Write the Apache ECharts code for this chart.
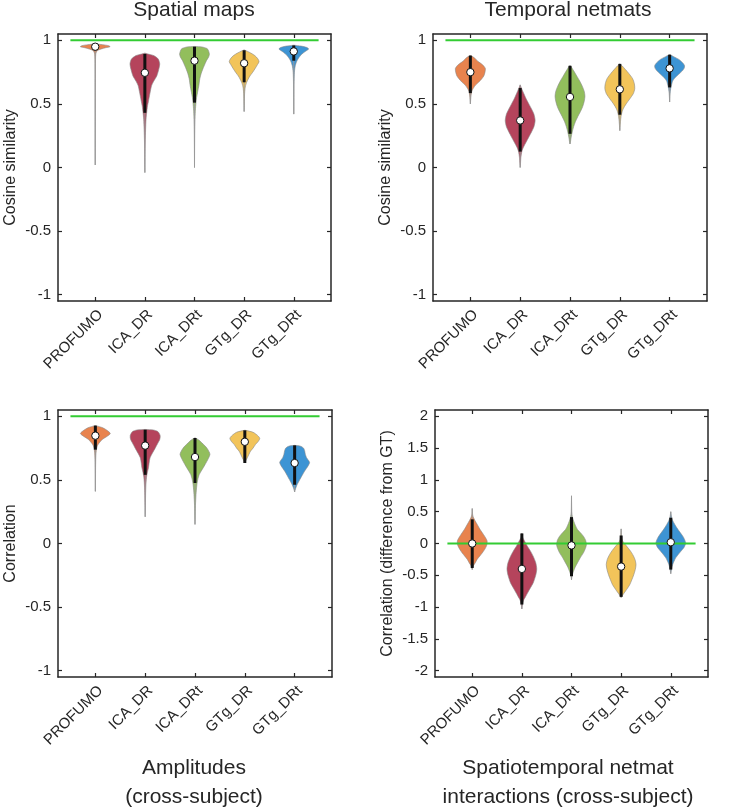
<!DOCTYPE html>
<html>
<head>
<meta charset="utf-8">
<script src="https://cdn.jsdelivr.net/npm/echarts@6/dist/echarts.min.js"></script>
<style>html,body{margin:0;padding:0;background:#fff}#c{width:742px;height:809px}</style>
</head>
<body>
<div id="c"></div>
<script>
// ---------------- DATA ----------------
const categories = ['PROFUMO', 'ICA_DR', 'ICA_DRt', 'GTg_DR', 'GTg_DRt'];
const colors = ['#E8834E', '#B5445C', '#92BE5C', '#F2C45A', '#3D94D4'];

const panelTitles = ['Spatial maps', 'Temporal netmats', 'Amplitudes\n(cross-subject)', 'Spatiotemporal netmat\ninteractions (cross-subject)'];
const yNames = ['Cosine similarity', 'Cosine similarity', 'Correlation', 'Correlation (difference from GT)'];
const yTicksA = [-1, -0.5, 0, 0.5, 1];
const yTicksB = [-2, -1.5, -1, -0.5, 0, 0.5, 1, 1.5, 2];
const referenceLine = [1, 1, 1, 0];

// Panel 1: Spatial maps
const spatialMedian = [0.95, 0.745, 0.84, 0.82, 0.913];
const spatialBox = [[0.92, 0.966], [0.43, 0.893], [0.51, 0.95], [0.67, 0.922], [0.84, 0.96]];
const spatialRange = [[0.02, 0.972], [-0.04, 0.9], [0.0, 0.952], [0.44, 0.925], [0.42, 0.962]];
const spatialProfiles = [
  [[0.972,0],[0.966,0.5],[0.958,0.9],[0.95,1.0],[0.942,0.7],[0.932,0.4],[0.92,0.15],[0.9,0.05],[0.85,0.02],[0.7,0.01],[0.4,0.005],[0.02,0]],
  [[0.9,0],[0.893,0.2],[0.88,0.6],[0.853,0.9],[0.814,1.0],[0.77,0.93],[0.72,0.8],[0.68,0.6],[0.643,0.45],[0.6,0.37],[0.564,0.31],[0.52,0.24],[0.485,0.18],[0.43,0.12],[0.38,0.08],[0.3,0.05],[0.2,0.025],[0.1,0.012],[0,0.005],[-0.04,0]],
  [[0.952,0],[0.948,0.5],[0.935,0.85],[0.915,0.95],[0.89,1.0],[0.87,0.95],[0.84,0.8],[0.8,0.65],[0.775,0.56],[0.74,0.45],[0.7,0.36],[0.643,0.29],[0.6,0.22],[0.55,0.14],[0.51,0.1],[0.45,0.06],[0.4,0.04],[0.3,0.02],[0.15,0.008],[0,0]],
  [[0.925,0],[0.915,0.2],[0.9,0.45],[0.88,0.72],[0.855,0.92],[0.832,1.0],[0.81,0.9],[0.775,0.72],[0.745,0.55],[0.72,0.39],[0.695,0.27],[0.67,0.17],[0.645,0.1],[0.62,0.06],[0.58,0.03],[0.5,0.012],[0.44,0]],
  [[0.962,0],[0.955,0.5],[0.945,0.85],[0.932,1.0],[0.915,0.8],[0.893,0.55],[0.873,0.4],[0.853,0.28],[0.83,0.18],[0.8,0.1],[0.76,0.05],[0.7,0.025],[0.6,0.012],[0.5,0.005],[0.42,0]]
];

// Panel 2: Temporal netmats
const temporalMedian = [0.75, 0.37, 0.555, 0.615, 0.78];
const temporalBox = [[0.585, 0.88], [0.125, 0.625], [0.265, 0.8], [0.415, 0.815], [0.63, 0.887]];
const temporalRange = [[0.5, 0.88], [0.0, 0.65], [0.185, 0.8], [0.29, 0.815], [0.515, 0.887]];
const temporalProfiles = [
  [[0.88,0.03],[0.86,0.3],[0.835,0.5],[0.81,0.8],[0.78,1.0],[0.75,0.98],[0.72,0.9],[0.70,0.78],[0.67,0.55],[0.65,0.36],[0.62,0.18],[0.6,0.1],[0.57,0.05],[0.53,0.02],[0.5,0]],
  [[0.65,0],[0.62,0.1],[0.58,0.25],[0.54,0.4],[0.5,0.58],[0.46,0.76],[0.42,0.92],[0.37,1.0],[0.32,0.92],[0.28,0.76],[0.24,0.58],[0.2,0.4],[0.16,0.22],[0.13,0.12],[0.08,0.05],[0.03,0.02],[0,0]],
  [[0.8,0.03],[0.76,0.25],[0.72,0.45],[0.68,0.65],[0.64,0.82],[0.6,0.95],[0.56,1.0],[0.52,0.95],[0.48,0.85],[0.44,0.7],[0.4,0.52],[0.36,0.36],[0.32,0.24],[0.28,0.15],[0.24,0.08],[0.2,0.03],[0.185,0]],
  [[0.815,0],[0.8,0.15],[0.77,0.38],[0.74,0.6],[0.7,0.85],[0.66,0.97],[0.62,1.0],[0.58,0.9],[0.54,0.67],[0.5,0.42],[0.46,0.22],[0.42,0.11],[0.38,0.06],[0.34,0.03],[0.29,0]],
  [[0.887,0.03],[0.87,0.3],[0.85,0.62],[0.82,0.9],[0.8,1.0],[0.78,0.97],[0.76,0.85],[0.74,0.67],[0.72,0.48],[0.7,0.32],[0.68,0.2],[0.65,0.13],[0.62,0.07],[0.58,0.03],[0.54,0.01],[0.515,0]]
];

// Panel 3: Amplitudes
const amplitudeMedian = [0.848, 0.77, 0.68, 0.80, 0.633];
const amplitudeBox = [[0.738, 0.927], [0.54, 0.895], [0.476, 0.83], [0.633, 0.89], [0.462, 0.772]];
const amplitudeRange = [[0.41, 0.927], [0.21, 0.895], [0.15, 0.83], [0.635, 0.89], [0.405, 0.772]];
const amplitudeProfiles = [
  [[0.927,0.03],[0.91,0.5],[0.89,0.78],[0.865,1.0],[0.84,0.75],[0.82,0.48],[0.79,0.25],[0.767,0.13],[0.73,0.06],[0.68,0.03],[0.6,0.015],[0.5,0.008],[0.41,0]],
  [[0.897,0],[0.893,0.55],[0.88,0.85],[0.85,1.0],[0.82,0.98],[0.79,0.85],[0.75,0.67],[0.71,0.48],[0.675,0.33],[0.63,0.26],[0.596,0.22],[0.56,0.15],[0.53,0.1],[0.48,0.06],[0.4,0.03],[0.3,0.015],[0.21,0]],
  [[0.83,0.03],[0.81,0.3],[0.79,0.47],[0.77,0.65],[0.75,0.8],[0.72,0.95],[0.70,1.0],[0.67,0.9],[0.62,0.67],[0.58,0.47],[0.544,0.29],[0.5,0.18],[0.466,0.13],[0.42,0.09],[0.387,0.07],[0.3,0.03],[0.2,0.01],[0.15,0]],
  [[0.89,0.03],[0.875,0.55],[0.85,0.85],[0.827,1.0],[0.8,0.88],[0.78,0.72],[0.75,0.55],[0.728,0.39],[0.7,0.27],[0.675,0.17],[0.65,0.06],[0.635,0]],
  [[0.772,0],[0.765,0.4],[0.75,0.6],[0.73,0.67],[0.7,0.72],[0.675,0.8],[0.65,0.95],[0.636,1.0],[0.61,0.9],[0.57,0.67],[0.535,0.5],[0.505,0.36],[0.475,0.22],[0.453,0.13],[0.43,0.06],[0.405,0]]
];

// Panel 4: Spatiotemporal netmat interactions
const interactionMedian = [0.0, -0.40, -0.03, -0.363, 0.02];
const interactionBox = [[-0.385, 0.38], [-0.96, 0.158], [-0.515, 0.415], [-0.84, 0.126], [-0.41, 0.405]];
const interactionRange = [[-0.41, 0.55], [-1.03, 0.16], [-0.57, 0.75], [-0.85, 0.23], [-0.475, 0.5]];
const interactionProfiles = [
  [[0.55,0],[0.45,0.03],[0.4,0.1],[0.33,0.26],[0.22,0.53],[0.115,0.83],[0.04,1.0],[-0.03,0.97],[-0.095,0.83],[-0.15,0.67],[-0.2,0.5],[-0.25,0.33],[-0.305,0.2],[-0.35,0.08],[-0.41,0]],
  [[0.16,0],[0.1,0.05],[0.04,0.18],[-0.04,0.36],[-0.12,0.58],[-0.2,0.76],[-0.3,0.93],[-0.4,1.0],[-0.5,0.93],[-0.62,0.76],[-0.7,0.57],[-0.78,0.38],[-0.84,0.24],[-0.885,0.13],[-0.95,0.05],[-1.03,0]],
  [[0.75,0],[0.5,0.02],[0.42,0.06],[0.35,0.15],[0.28,0.27],[0.22,0.4],[0.17,0.6],[0.115,0.8],[0.05,0.95],[-0.02,1.0],[-0.08,0.93],[-0.147,0.8],[-0.22,0.6],[-0.305,0.4],[-0.37,0.25],[-0.44,0.13],[-0.5,0.05],[-0.57,0]],
  [[0.23,0],[0.12,0.03],[0.04,0.1],[-0.04,0.36],[-0.11,0.6],[-0.175,0.78],[-0.25,0.93],[-0.33,1.0],[-0.41,0.95],[-0.49,0.85],[-0.57,0.72],[-0.647,0.58],[-0.72,0.38],[-0.78,0.2],[-0.82,0.08],[-0.85,0]],
  [[0.5,0],[0.42,0.05],[0.36,0.13],[0.3,0.27],[0.25,0.4],[0.195,0.56],[0.1,0.85],[0.01,1.0],[-0.05,0.92],[-0.095,0.78],[-0.15,0.58],[-0.226,0.33],[-0.28,0.22],[-0.33,0.13],[-0.4,0.05],[-0.475,0]]
];

// ---------------- BUILD ----------------
const panels = [
  {median: spatialMedian, box: spatialBox, range: spatialRange, prof: spatialProfiles, yMax: 1.05, ticks: yTicksA},
  {median: temporalMedian, box: temporalBox, range: temporalRange, prof: temporalProfiles, yMax: 1.05, ticks: yTicksA},
  {median: amplitudeMedian, box: amplitudeBox, range: amplitudeRange, prof: amplitudeProfiles, yMax: 1.05, ticks: yTicksA},
  {median: interactionMedian, box: interactionBox, range: interactionRange, prof: interactionProfiles, yMax: 2.1, ticks: yTicksB}
];
const gridsPos = [
  {left: 58, top: 34, width: 273, height: 267},
  {left: 433, top: 34, width: 274, height: 267},
  {left: 58, top: 410, width: 274, height: 267},
  {left: 435, top: 410, width: 273, height: 267}
];
const FONT = 'Liberation Sans, Arial, Helvetica, sans-serif';
const INK = '#262626';
const halfW = 0.3;
const catPos = categories.map((c, i) => i + 1);

const xAxes = [], yAxes = [], series = [];
panels.forEach((p, g) => {
  const lineStyle = {color: INK, width: 1.5};
  xAxes.push({
    gridIndex: g, type: 'value', min: 0.25, max: 5.75, position: 'bottom',
    axisLine: {show: true, onZero: false, lineStyle},
    axisTick: {show: true, inside: true, length: 4, customValues: catPos, lineStyle: {color: INK, width: 1.2}},
    axisLabel: {show: true, customValues: catPos, rotate: 45, verticalAlign: 'top', margin: 6,
      formatter: v => categories[Math.round(v) - 1], fontSize: 15, color: INK, fontFamily: FONT},
    splitLine: {show: false}
  });
  xAxes.push({
    gridIndex: g, type: 'value', min: 0.25, max: 5.75, position: 'top',
    axisLine: {show: true, onZero: false, lineStyle},
    axisTick: {show: true, inside: true, length: 4, customValues: catPos, lineStyle: {color: INK, width: 1.2}},
    axisLabel: {show: false}, splitLine: {show: false}
  });
  yAxes.push({
    gridIndex: g, type: 'value', min: -p.yMax, max: p.yMax, position: 'left',
    axisLine: {show: true, onZero: false, lineStyle},
    axisTick: {show: true, inside: true, length: 4, customValues: p.ticks, lineStyle: {color: INK, width: 1.2}},
    axisLabel: {show: true, customValues: p.ticks, formatter: v => String(v), fontSize: 15, color: INK, fontFamily: FONT, margin: 7},
    splitLine: {show: false},
    name: yNames[g], nameLocation: 'middle', nameGap: 39,
    nameTextStyle: {fontSize: 16, color: INK, fontFamily: FONT}
  });
  yAxes.push({
    gridIndex: g, type: 'value', min: -p.yMax, max: p.yMax, position: 'right',
    axisLine: {show: true, onZero: false, lineStyle},
    axisTick: {show: true, inside: true, length: 4, customValues: p.ticks, lineStyle: {color: INK, width: 1.2}},
    axisLabel: {show: false}, splitLine: {show: false}
  });

  // violin bodies
  series.push({
    type: 'custom', xAxisIndex: 2 * g, yAxisIndex: 2 * g, z: 2, silent: true,
    data: catPos.map(c => [c]),
    renderItem: (params, api) => {
      const i = params.dataIndex, cx = catPos[i];
      const prof = p.prof[i];
      const right = prof.map(([v, w]) => api.coord([cx + w * halfW, v]));
      const left = prof.slice().reverse().map(([v, w]) => api.coord([cx - w * halfW, v]));
      const a = api.coord([cx, p.range[i][0]]), b = api.coord([cx, p.range[i][1]]);
      return {type: 'group', children: [
        {type: 'polygon', shape: {points: right.concat(left), smooth: 0.25},
          style: {fill: colors[i], stroke: '#8a8a8a', lineWidth: 0.6}},
        {type: 'line', shape: {x1: a[0], y1: a[1], x2: b[0], y2: b[1]},
          style: {stroke: '#9a9a9a', lineWidth: 1}}
      ]};
    }
  });
  // reference line
  series.push({
    type: 'line', xAxisIndex: 2 * g, yAxisIndex: 2 * g, z: 3, silent: true, symbol: 'none',
    data: [[0.5, referenceLine[g]], [5.5, referenceLine[g]]],
    lineStyle: {color: '#33CC33', width: 2}
  });
  // box + median
  series.push({
    type: 'custom', xAxisIndex: 2 * g, yAxisIndex: 2 * g, z: 4, silent: true,
    data: catPos.map(c => [c]),
    renderItem: (params, api) => {
      const i = params.dataIndex, cx = catPos[i];
      const a = api.coord([cx, p.box[i][0]]), b = api.coord([cx, p.box[i][1]]);
      const m = api.coord([cx, p.median[i]]);
      return {type: 'group', children: [
        {type: 'line', shape: {x1: a[0], y1: a[1], x2: b[0], y2: b[1]},
          style: {stroke: '#111', lineWidth: 3}},
        {type: 'circle', shape: {cx: m[0], cy: m[1], r: 3.7},
          style: {fill: '#fff', stroke: '#111', lineWidth: 1}}
      ]};
    }
  });
});

const titles = [
  {text: panelTitles[0], left: 194, top: -4},
  {text: panelTitles[1], left: 568, top: -4},
  {text: panelTitles[2], left: 194, top: 754},
  {text: panelTitles[3], left: 568, top: 754}
].map(t => Object.assign(t, {textAlign: 'center', padding: 0,
  textStyle: {fontSize: 21, fontWeight: 'normal', color: INK, fontFamily: FONT, lineHeight: 29}}));

const chart = echarts.init(document.getElementById('c'), null, {renderer: 'canvas'});
chart.setOption({
  backgroundColor: '#ffffff',
  animation: false,
  title: titles,
  grid: gridsPos.map(gp => Object.assign({containLabel: false}, gp)),
  xAxis: xAxes,
  yAxis: yAxes,
  series: series
});
</script>
</body>
</html>
